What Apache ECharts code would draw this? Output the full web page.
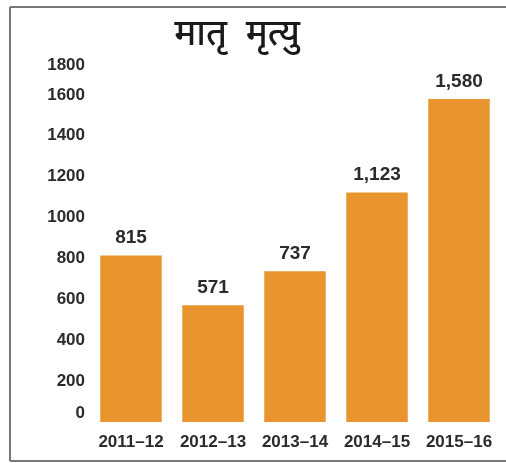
<!DOCTYPE html>
<html>
<head>
<meta charset="utf-8">
<script src="https://cdn.jsdelivr.net/npm/echarts@6/dist/echarts.min.js"></script>
<style>
html,body{margin:0;padding:0;background:#fff;}
#c{width:506px;height:463px;}
</style>
</head>
<body>
<div id="c"></div>
<script>
var title = 'मातृ\u00a0\u00a0मृत्यु';
var categories = ['2011\u201312', '2012\u201313', '2013\u201314', '2014\u201315', '2015\u201316'];
var values = [815, 571, 737, 1123, 1580];
var yTicks = [0, 200, 400, 600, 800, 1000, 1200, 1400, 1600, 1800];

var chart = echarts.init(document.getElementById('c'), null, {renderer: 'canvas'});
var labelFont = {fontFamily: 'Liberation Sans, Arial, sans-serif', fontWeight: 'bold', fontSize: 17, color: '#2b2b2b'};
chart.setOption({
  backgroundColor: '#fff',
  animation: false,
  title: {
    text: title,
    left: 232,
    top: 15,
    textAlign: 'center',
    textStyle: {fontFamily: 'Noto Sans Devanagari, Noto Sans, sans-serif', fontSize: 36, fontWeight: 500, color: '#1a1a1a'}
  },
  grid: {left: 90, right: 6, top: 54, bottom: 41, containLabel: false},
  xAxis: {
    type: 'category',
    data: categories,
    axisLine: {show: false},
    axisTick: {show: false},
    axisLabel: Object.assign({margin: 12, interval: 0, hideOverlap: false}, labelFont, {fontSize: 17})
  },
  yAxis: {
    type: 'value',
    min: yTicks[0],
    max: yTicks[yTicks.length - 1],
    interval: 200,
    splitLine: {show: false},
    axisLine: {show: false},
    axisTick: {show: false},
    axisLabel: Object.assign({
      margin: 5,
      formatter: function (v) {
        if (v === 0) return '{z|' + v + '}';
        if (v === 1800) return '{t|' + v + '}';
        return '{n|' + v + '}';
      },
      rich: {
        z: Object.assign({padding: [0, 0, 18, 0]}, labelFont),
        t: Object.assign({padding: [22, 0, 0, 0]}, labelFont),
        n: Object.assign({}, labelFont)
      }
    }, labelFont)
  },
  series: [{
    type: 'bar',
    data: values,
    barCategoryGap: '25%',
    itemStyle: {color: '#E8952F'},
    label: {
      show: true,
      position: 'top',
      distance: 8,
      fontFamily: 'Liberation Sans, Arial, sans-serif',
      fontWeight: 'bold',
      fontSize: 19,
      color: '#2b2b2b',
      formatter: function (p) { return p.value.toLocaleString('en-US'); }
    }
  }],
  graphic: [
    {type: 'line', shape: {x1: 10, y1: 7, x2: 506, y2: 7}, style: {stroke: '#777', lineWidth: 2}},
    {type: 'line', shape: {x1: 10, y1: 7, x2: 10, y2: 461}, style: {stroke: '#777', lineWidth: 2}},
    {type: 'line', shape: {x1: 10, y1: 461, x2: 506, y2: 461}, style: {stroke: '#777', lineWidth: 2}}
  ]
});
</script>
</body>
</html>
